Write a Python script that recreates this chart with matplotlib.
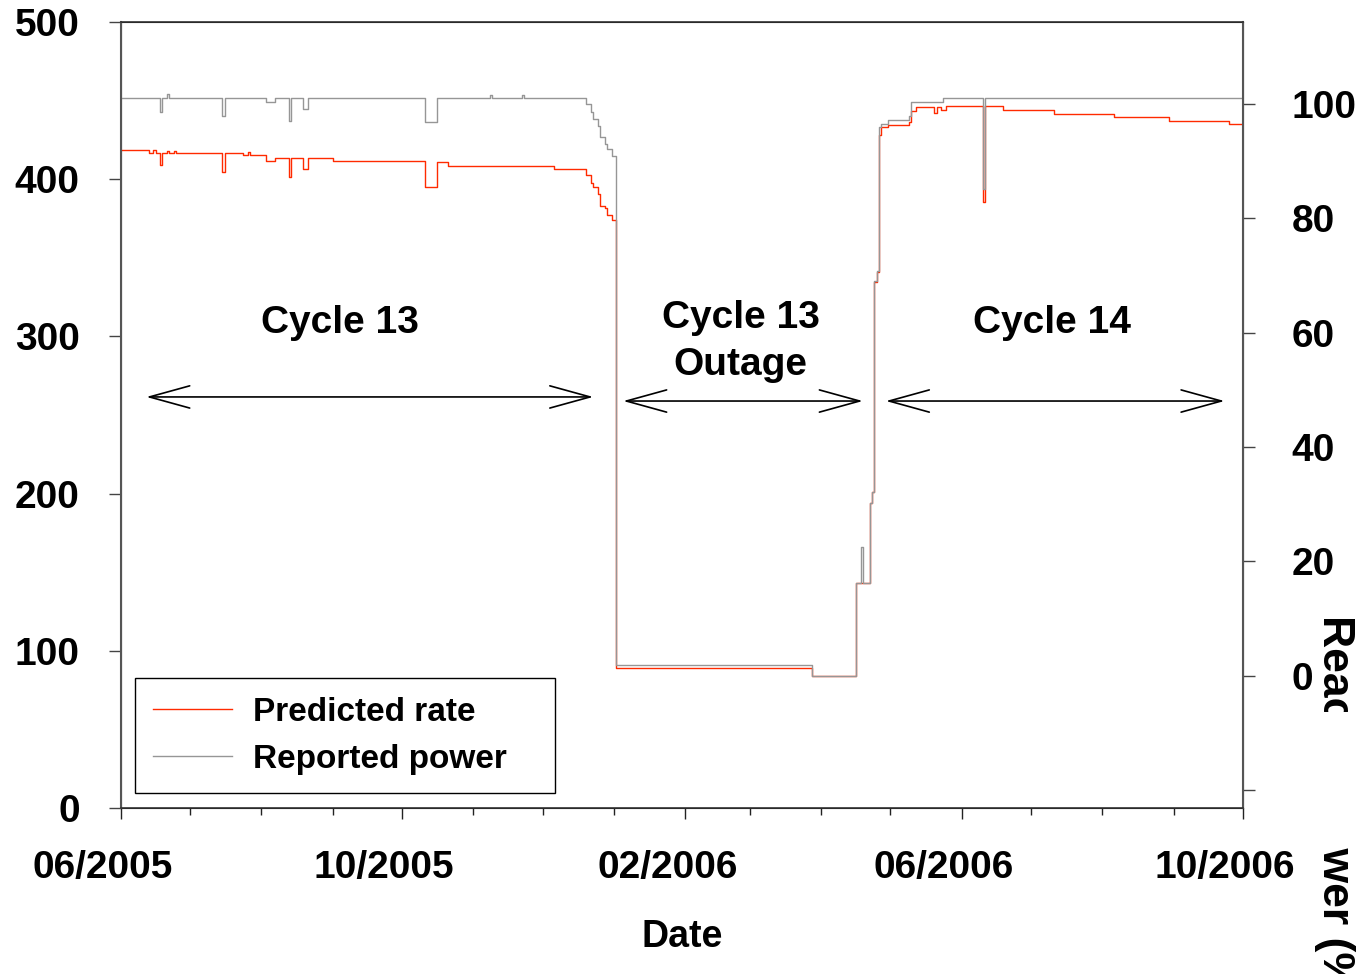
"""Predicted rate vs. reported reactor power across cycle 13, its outage and cycle 14."""

import matplotlib

matplotlib.use("Agg")
import matplotlib.dates as mdates
import matplotlib.pyplot as plt
import pandas as pd
from matplotlib.lines import Line2D
from matplotlib.patches import ArrowStyle, Rectangle
from matplotlib.transforms import ScaledTranslation

# predicted rate (left axis), step changes
RATE_DATES = [
    "2005-06-01", "2005-06-13", "2005-06-15", "2005-06-16", "2005-06-18",
    "2005-06-19", "2005-06-21", "2005-06-22", "2005-06-24", "2005-06-25",
    "2005-07-15", "2005-07-16", "2005-07-24", "2005-07-26", "2005-07-27",
    "2005-08-03", "2005-08-07", "2005-08-13", "2005-08-14", "2005-08-19",
    "2005-08-21", "2005-09-01", "2005-10-11", "2005-10-16", "2005-10-21",
    "2005-12-06", "2005-12-20", "2005-12-22", "2005-12-23", "2005-12-25",
    "2005-12-26", "2005-12-28", "2005-12-29", "2005-12-31", "2006-01-02",
    "2006-03-28", "2006-04-16", "2006-04-22", "2006-04-23", "2006-04-24",
    "2006-04-25", "2006-04-26", "2006-04-27", "2006-04-30", "2006-05-09",
    "2006-05-10", "2006-05-12", "2006-05-20", "2006-05-21", "2006-05-23",
    "2006-05-25", "2006-06-10", "2006-06-11", "2006-06-19", "2006-07-11",
    "2006-08-06", "2006-08-30", "2006-09-25", "2006-10-01",
]
RATE_VALUES = [
    418.6, 416.5, 418.6, 416.5, 409.0,
    416.5, 418.0, 416.5, 418.0, 416.5,
    404.6, 416.5, 415.4, 417.0, 415.4,
    411.6, 413.7, 401.4, 413.7, 406.5,
    413.7, 411.6, 395.2, 411.1, 408.6,
    406.5, 402.7, 397.4, 394.8, 390.6,
    383.0, 381.5, 377.2, 374.0, 89.1,
    84.0, 143.1, 194.0, 201.0, 334.6,
    341.0, 428.1, 433.0, 434.4, 436.4,
    443.5, 445.9, 442.1, 445.9, 444.0,
    446.8, 385.5, 446.8, 444.0, 441.7,
    439.6, 437.2, 434.9, 434.9,
]

# reported power in % (right axis), step changes
POWER_DATES = [
    "2005-06-01", "2005-06-18", "2005-06-19", "2005-06-21", "2005-06-22",
    "2005-07-15", "2005-07-16", "2005-08-03", "2005-08-07", "2005-08-13",
    "2005-08-14", "2005-08-19", "2005-08-21", "2005-10-11", "2005-10-16",
    "2005-11-08", "2005-11-09", "2005-11-22", "2005-11-23", "2005-12-20",
    "2005-12-22", "2005-12-23", "2005-12-25", "2005-12-26", "2005-12-28",
    "2005-12-29", "2005-12-31", "2006-01-02", "2006-03-28", "2006-04-16",
    "2006-04-18", "2006-04-19", "2006-04-22", "2006-04-23", "2006-04-24",
    "2006-04-25", "2006-04-26", "2006-04-27", "2006-04-30", "2006-05-09",
    "2006-05-10", "2006-05-24", "2006-06-10", "2006-06-11", "2006-10-01",
]
POWER_VALUES = [
    101.0, 98.6, 101.0, 101.7, 101.0,
    97.9, 101.0, 100.3, 101.0, 97.0,
    101.0, 99.1, 101.0, 96.8, 101.0,
    101.6, 101.0, 101.6, 101.0, 100.0,
    98.6, 97.4, 96.2, 94.2, 93.0,
    92.1, 90.9, 1.9, 0.0, 16.3,
    22.6, 16.3, 30.3, 32.2, 69.0,
    70.8, 96.0, 96.5, 97.2, 97.9,
    100.3, 101.0, 85.1, 101.0, 101.0,
]

PERIOD_NAMES = ["Cycle 13", "Cycle 13\nOutage", "Cycle 14"]
PERIOD_STARTS = ["2005-06-12", "2006-01-05", "2006-04-29"]
PERIOD_ENDS = ["2005-12-23", "2006-04-19", "2006-09-23"]
PERIOD_LABEL_DATES = ["2005-09-04", "2006-02-25", "2006-07-10"]

RATE_TICKS = [0, 100, 200, 300, 400, 500]
POWER_TICKS = [-20, 0, 20, 40, 60, 80, 100]
POWER_TICK_LABELS = ["", "0", "20", "40", "60", "80", "100"]

RATE_COLOR = "#ff2a00"
POWER_COLOR = "#969696"

plt.rcParams["font.family"] = ["Liberation Sans", "DejaVu Sans"]
plt.rcParams["font.weight"] = "bold"
plt.rcParams["axes.labelweight"] = "bold"
plt.rcParams["font.size"] = 28


def _num(day):
    return mdates.date2num(pd.Timestamp(day))


fig = plt.figure(figsize=(13.62, 9.74), dpi=100)
ax = fig.add_axes([0.0888, 0.1704, 0.8238, 0.8070])
ax2 = ax.twinx()

ax.plot(pd.to_datetime(RATE_DATES), RATE_VALUES, drawstyle="steps-post",
        color=RATE_COLOR, lw=1.0)
ax2.plot(pd.to_datetime(POWER_DATES), POWER_VALUES, drawstyle="steps-post",
         color=POWER_COLOR, lw=1.0)

ax.set_xlim(pd.Timestamp("2005-06-01"), pd.Timestamp("2006-10-01"))
ax.set_ylim(0, 500)
ax2.set_ylim(-23.1, 114.3)

ax.xaxis.set_major_locator(mdates.MonthLocator(bymonth=(2, 6, 10)))
ax.xaxis.set_minor_locator(mdates.MonthLocator())
ax.xaxis.set_major_formatter(mdates.DateFormatter("%m/%Y"))
ax.set_yticks(RATE_TICKS)
ax2.set_yticks(POWER_TICKS)
ax2.set_yticklabels(POWER_TICK_LABELS)

ax.tick_params(axis="y", direction="out", length=8.6, width=1.0, pad=21,
               color="#444444")
ax.tick_params(axis="x", which="major", direction="out", length=8, width=1.0,
               pad=22, color="#222222")
ax.tick_params(axis="x", which="minor", direction="out", length=5, width=1.0,
               color="#222222")
ax2.tick_params(axis="y", direction="out", length=8.6, width=1.0, pad=26.5,
                color="#444444")

# date labels sit a little left of their ticks
shift = ScaledTranslation(-18 / 100, 0, fig.dpi_scale_trans)
for label in ax.get_xticklabels():
    label.set_transform(label.get_transform() + shift)

for side in ("left", "right"):
    ax2.spines[side].set_color("#555555")
    ax2.spines[side].set_linewidth(1.5)
for side in ("top", "bottom"):
    ax2.spines[side].set_color("#333333")
    ax2.spines[side].set_linewidth(1.2)

ax.set_xlabel("Date", fontsize=27, labelpad=24)
ax2.set_ylabel("Reactor power (%)", fontsize=32, rotation=270,
               rotation_mode="default", ha="center", va="top")
ax2.yaxis.set_label_coords(1.0812, 0.246)

# period spans with double-headed arrows
arrow_style = ArrowStyle("<->", head_length=1.45, head_width=0.4)
arrow_levels = [261.5, 258.9, 258.9]
label_levels = [308.5, 297.0, 308.5]
for name, start, end, mid, y_arrow, y_text in zip(
    PERIOD_NAMES, PERIOD_STARTS, PERIOD_ENDS, PERIOD_LABEL_DATES,
    arrow_levels, label_levels,
):
    ax.annotate("", xy=(_num(end), y_arrow), xytext=(_num(start), y_arrow),
                arrowprops=dict(arrowstyle=arrow_style, mutation_scale=20,
                                lw=1.2, color="black", shrinkA=0, shrinkB=0))
    ax.text(_num(mid), y_text, name, ha="center", va="center",
            fontsize=28, linespacing=1.4)

handles = [
    Line2D([], [], color=RATE_COLOR, lw=1.0),
    Line2D([], [], color=POWER_COLOR, lw=1.0),
]
ax2.legend(handles, ["Predicted rate", "Reported power"], loc="lower left",
           bbox_to_anchor=(0.0125, 0.019, 0.374, 0.148), mode="expand",
           borderaxespad=0, fontsize=24, frameon=True, fancybox=False,
           edgecolor="black", framealpha=1, handlelength=2.35,
           handletextpad=0.65, labelspacing=0.48, borderpad=0.55)

# white strip over the middle of the power label
fig.add_artist(Rectangle((1306 / 1362, 1 - 847 / 974), 56 / 1362, 135 / 974,
                         transform=fig.transFigure, facecolor="white",
                         edgecolor="none", zorder=10))

fig.savefig("out.png", dpi=100)
